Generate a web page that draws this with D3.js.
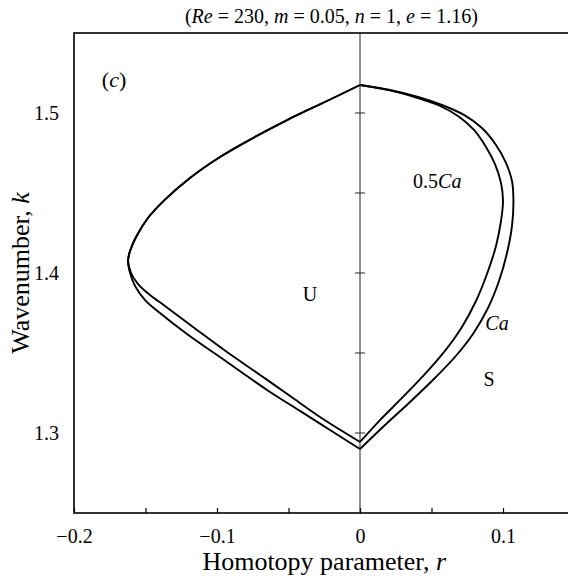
<!DOCTYPE html>
<meta charset="utf-8">
<title>homotopy</title>
<head>
<style>
body { margin: 0; background: #fff; }
svg { display: block; font-family: "Liberation Serif", "DejaVu Serif", serif; }
.frame { fill: none; stroke: #000; stroke-width: 1.6; }
.curve { fill: none; stroke: #000; stroke-width: 1.9; stroke-linejoin: round; }
.zero { stroke: #222; stroke-width: 1; }
.axis path { display: none; }
.axis line { stroke: #000; stroke-width: 1.2; }
.axis text { font-size: 20px; fill: #000; font-family: "Liberation Serif", serif; }
.note { font-size: 20px; fill: #000; }
</style>
</head>
<body>
<div id="chart"></div>
<script src="https://cdn.jsdelivr.net/npm/d3@7"></script>
<script>
// tick values
var xTicks = [-0.2, -0.15, -0.1, -0.05, 0, 0.05, 0.1, 0.15];
var xLabels = [-0.2, -0.1, 0, 0.1];
var yLabels = [1.3, 1.4, 1.5];
var zeroTicks = [1.3, 1.35, 1.4, 1.45, 1.5];

// upper left part, common to both curves (top corner -> tip)
var topLeftR = [0, -0.0231, -0.0510, -0.0748, -0.0979, -0.1189, -0.1364, -0.1483, -0.1566, -0.1608, -0.1622];
var topLeftK = [1.5175, 1.5075, 1.4956, 1.4844, 1.4725, 1.4594, 1.4459, 1.4344, 1.4225, 1.4138, 1.4075];

// Ca: lower left (after tip -> bottom corner) and right (bottom corner -> top corner)
var caLowR = [-0.1608, -0.1573, -0.1503, -0.1399, -0.1210, -0.0930, -0.0650, -0.0420, -0.0210, 0];
var caLowK = [1.4000, 1.3919, 1.3831, 1.3750, 1.3619, 1.3444, 1.3269, 1.3138, 1.3019, 1.2900];
var caRightR = [0, 0.0175, 0.0350, 0.0524, 0.0664, 0.0790, 0.0895, 0.0972, 0.1028, 0.1063, 0.1073, 0.1063, 0.1021, 0.0951, 0.0853, 0.0727, 0.0573, 0.0406, 0.0210, 0];
var caRightK = [1.2900, 1.3050, 1.3194, 1.3344, 1.3475, 1.3619, 1.3781, 1.3950, 1.4125, 1.4294, 1.4450, 1.4575, 1.4688, 1.4800, 1.4906, 1.4988, 1.5050, 1.5100, 1.5144, 1.5175];

// 0.5Ca
var halfLowR = [-0.1601, -0.1552, -0.1469, -0.1364, -0.1168, -0.0930, -0.0699, -0.0469, -0.0280, 0];
var halfLowK = [1.4000, 1.3931, 1.3863, 1.3794, 1.3663, 1.3506, 1.3363, 1.3219, 1.3100, 1.2944];
var halfRightR = [0, 0.0140, 0.0294, 0.0455, 0.0594, 0.0713, 0.0811, 0.0888, 0.0951, 0.0986, 0.1000, 0.0986, 0.0944, 0.0881, 0.0797, 0.0685, 0.0545, 0.0392, 0.0210, 0];
var halfRightK = [1.2944, 1.3081, 1.3219, 1.3369, 1.3513, 1.3663, 1.3825, 1.3994, 1.4169, 1.4325, 1.4450, 1.4563, 1.4681, 1.4788, 1.4894, 1.4981, 1.5050, 1.5097, 1.5141, 1.5175];

var W = 568, H = 579;
var margin = {top: 33, right: -6.5, bottom: 66, left: 74};

var svg = d3.select("#chart").append("svg")
    .attr("width", W)
    .attr("height", H);

var x = d3.scaleLinear().domain([-0.2, 0.15]).range([margin.left, W - margin.right]);
var y = d3.scaleLinear().domain([1.25, 1.55]).range([H - margin.bottom, margin.top]);

function pts(rs, ks) {
  return rs.map(function(r, i) { return [r, ks[i]]; });
}

var line = d3.line()
    .x(function(d) { return x(d[0]); })
    .y(function(d) { return y(d[1]); })
    .curve(d3.curveCatmullRom.alpha(0.5));

// title
var title = svg.append("text")
    .attr("x", x(-0.02))
    .attr("y", 23)
    .attr("text-anchor", "middle")
    .style("font-size", "20px");
title.append("tspan").text("(");
title.append("tspan").style("font-style", "italic").text("Re");
title.append("tspan").text(" = 230, ");
title.append("tspan").style("font-style", "italic").text("m");
title.append("tspan").text(" = 0.05, ");
title.append("tspan").style("font-style", "italic").text("n");
title.append("tspan").text(" = 1, ");
title.append("tspan").style("font-style", "italic").text("e");
title.append("tspan").text(" = 1.16)");

// frame
svg.append("rect")
    .attr("class", "frame")
    .attr("x", x(-0.2))
    .attr("y", y(1.55))
    .attr("width", x(0.15) - x(-0.2))
    .attr("height", y(1.25) - y(1.55));

// r = 0 line with crosses
svg.append("line")
    .attr("class", "zero")
    .attr("x1", x(0)).attr("x2", x(0))
    .attr("y1", y(1.55)).attr("y2", y(1.25));
svg.append("g").selectAll("line")
    .data(zeroTicks)
  .enter().append("line")
    .attr("class", "zero")
    .attr("x1", x(0) - 5).attr("x2", x(0) + 5)
    .attr("y1", function(d) { return y(d); })
    .attr("y2", function(d) { return y(d); });

// axes
var xAxis = d3.axisBottom(x)
    .tickValues(xTicks)
    .tickSizeInner(-5)
    .tickSizeOuter(0)
    .tickPadding(16)
    .tickFormat(function(d) {
      return xLabels.some(function(v) { return Math.abs(v - d) < 1e-9; }) ? d3.format("")(+d.toFixed(2)) : "";
    });
svg.append("g")
    .attr("class", "axis")
    .attr("transform", "translate(0," + y(1.25) + ")")
    .call(xAxis);

var yAxis = d3.axisLeft(y)
    .tickValues(yLabels)
    .tickSize(0)
    .tickPadding(15)
    .tickFormat(d3.format(".1f"));
svg.append("g")
    .attr("class", "axis")
    .attr("transform", "translate(" + x(-0.2) + ",0)")
    .call(yAxis);

// axis titles
var xt = svg.append("text")
    .attr("x", (x(-0.2) + x(0.15)) / 2)
    .attr("y", 570)
    .attr("text-anchor", "middle")
    .style("font-size", "26px");
xt.append("tspan").text("Homotopy parameter, ");
xt.append("tspan").style("font-style", "italic").text("r");

var yt = svg.append("text")
    .attr("transform", "translate(29," + y(1.4) + ") rotate(-90)")
    .attr("text-anchor", "middle")
    .style("font-size", "26px");
yt.append("tspan").text("Wavenumber, ");
yt.append("tspan").style("font-style", "italic").text("k");

// curves: left branch runs top corner -> tip -> bottom corner, right branch closes the loop
var topLeft = pts(topLeftR, topLeftK);
var branches = [
  topLeft.concat(pts(caLowR, caLowK)), pts(caRightR, caRightK),
  topLeft.concat(pts(halfLowR, halfLowK)), pts(halfRightR, halfRightK)
];
svg.append("g").selectAll("path")
    .data(branches)
  .enter().append("path")
    .attr("class", "curve")
    .attr("d", line);

// annotations
function note(r, k, parts, size) {
  var t = svg.append("text")
      .attr("class", "note")
      .attr("x", x(r)).attr("y", y(k))
      .attr("text-anchor", "middle")
      .attr("dominant-baseline", "central");
  if (size) t.style("font-size", size);
  parts.forEach(function(p) {
    t.append("tspan").style("font-style", p[1] ? "italic" : "normal").text(p[0]);
  });
}
note(-0.172, 1.521, [["(", 0], ["c", 1], [")", 0]], "22px");
note(-0.035, 1.387, [["U", 0]]);
note(0.054, 1.4575, [["0.5", 0], ["Ca", 1]]);
note(0.0958, 1.369, [["Ca", 1]]);
note(0.0902, 1.334, [["S", 0]]);
</script>
</body>
